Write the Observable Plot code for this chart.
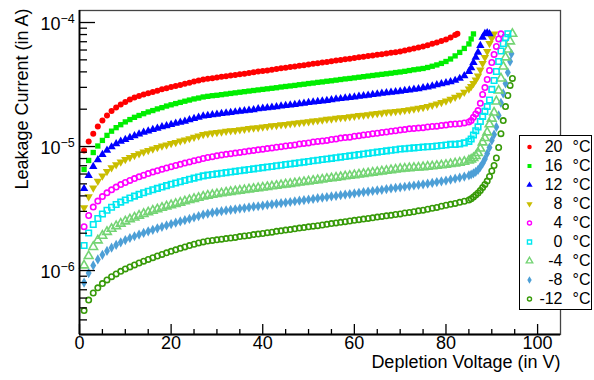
<!DOCTYPE html>
<html><head><meta charset="utf-8">
<script src="https://cdn.jsdelivr.net/npm/d3@7"></script>
<script src="https://cdn.jsdelivr.net/npm/@observablehq/plot@0.6"></script>
<style>
body{margin:0;background:#fff;}
#wrap{position:relative;width:594px;height:380px;font-family:"Liberation Sans",Arial,sans-serif;}
#legend{position:absolute;left:519px;top:135px;width:71px;height:173px;border:1.3px solid #000;background:#fff;}
</style></head><body><div id="wrap"></div>
<script>
// ---- data: leakage current (µA) vs depletion voltage (V) ----
const temps = [20, 16, 12, 8, 4, 0, -4, -8, -12];
const voltGrid = [1,2,3,4,5,6,7,8,9,10,11,12,13,14,15,16,17,18,19,20,21,22,23,24,25,26,27,28,29,30,
 31,32,33,34,35,36,37,38,39,40,41,42,43,44,45,46,47,48,49,50,51,52,53,54,55,56,57,58,59,60,
 61,62,63,64,65,66,67,68,69,70,71,72,73,74,75,76,77,78,79,80,81,82,83,84,85];

const i20 = [9.29,11.0,12.7,14.5,16.2,17.8,19.3,20.6,21.8,22.9,23.9,24.8,25.6,26.3,26.9,27.5,28.2,28.9,29.5,30.2,
 30.8,31.4,32.1,32.7,33.4,34.0,34.7,35.2,35.6,36.0,36.5,36.9,37.4,37.8,38.3,38.7,39.2,39.7,40.2,40.7,
 41.1,41.6,42.1,42.7,43.2,43.7,44.2,44.8,45.3,45.9,46.4,47.0,47.5,48.1,48.7,49.3,49.9,50.5,51.1,51.7,
 52.4,53.0,53.6,54.3,55.0,55.6,56.3,57.0,57.7,58.4,59.5,60.6,61.8,62.9,64.1,65.7,67.3,69.1,71.0,73.0,75.8,79.4];
const tailV20 = [82.5];
const tailI20 = [81.1];

const i16 = [6.53,7.72,8.95,10.1,11.2,12.3,13.3,14.2,15.0,15.8,16.5,17.2,17.8,18.4,19.0,19.5,20.1,20.6,21.2,21.7,
 22.2,22.7,23.2,23.7,24.2,24.6,25.1,25.4,25.7,25.9,26.2,26.5,26.8,27.1,27.4,27.7,28.0,28.3,28.6,28.9,
 29.2,29.5,29.8,30.2,30.5,30.8,31.1,31.5,31.8,32.2,32.5,32.9,33.2,33.6,33.9,34.3,34.7,35.1,35.4,35.8,
 36.2,36.6,37.0,37.4,37.8,38.2,38.6,39.0,39.5,39.9,40.4,41.0,41.6,42.1,42.6,43.4,44.4,45.5,46.8,48.5,
 50.8,53.8,57.4,61.8,67.2];
const tailV16 = [85.5, 86];
const tailI16 = [73.7, 80.9];

const i12 = [4.59,5.84,6.90,7.80,8.60,9.30,9.92,10.5,11.0,11.4,11.8,12.2,12.6,13.0,13.3,13.7,14.0,14.4,14.7,15.0,
 15.4,15.7,16.0,16.4,16.8,17.2,17.6,17.8,18.0,18.2,18.4,18.6,18.8,19.0,19.2,19.4,19.6,19.8,20.1,20.3,
 20.5,20.7,20.9,21.2,21.4,21.6,21.8,22.1,22.3,22.6,22.8,23.0,23.3,23.5,23.8,24.1,24.3,24.6,24.8,25.1,
 25.4,25.6,25.9,26.2,26.5,26.8,27.1,27.3,27.6,27.9,28.2,28.5,28.9,29.2,29.7,30.2,30.7,31.4,32.0,32.6,
 33.2,34.1,35.4,37.1];
const tailV12 = [85, 85.5, 86, 86.5, 87, 87.5, 88, 88.5, 89, 89.5];
const tailI12 = [40.3, 43.2, 47.6, 52.3, 57.4, 65.3, 75.8, 81.6, 82.4, 80.9];

const i8 = [3.22,3.95,4.63,5.25,5.80,6.30,6.75,7.15,7.52,7.86,8.17,8.47,8.76,9.04,9.31,9.57,9.82,10.1,10.3,10.6,
 10.8,11.1,11.3,11.6,11.9,12.2,12.5,12.7,12.9,13.0,13.1,13.3,13.4,13.5,13.7,13.8,14.0,14.1,14.2,14.4,
 14.5,14.7,14.8,15.0,15.1,15.3,15.4,15.6,15.7,15.9,16.1,16.2,16.4,16.6,16.7,16.9,17.1,17.2,17.4,17.6,
 17.8,17.9,18.1,18.3,18.5,18.7,18.9,19.0,19.2,19.4,19.6,19.8,20.1,20.4,20.7,21.1,21.6,22.1,22.7,23.3,
 24.1,25.0,26.0,27.4,29.1];
const tailV8 = [85.5, 86, 86.5, 87, 87.5, 88, 88.5, 89, 89.5, 90, 90.5];
const tailI8 = [30.5, 32.3, 34.4, 37.1, 41.4, 46.8, 52.3, 58.4, 67.8, 74.4, 81.1];

const i4 = [2.26,2.78,3.25,3.63,3.95,4.23,4.48,4.71,4.93,5.13,5.33,5.52,5.70,5.88,6.05,6.22,6.39,6.55,6.71,6.87,
 7.03,7.19,7.35,7.51,7.68,7.84,8.01,8.16,8.29,8.42,8.55,8.66,8.76,8.86,8.97,9.08,9.19,9.30,9.41,9.52,
 9.63,9.75,9.87,9.98,10.1,10.2,10.3,10.5,10.6,10.7,10.9,11.0,11.1,11.2,11.4,11.5,11.7,11.8,11.9,12.1,
 12.2,12.4,12.5,12.7,12.8,13.0,13.1,13.3,13.4,13.6,13.7,13.9,14.0,14.1,14.2,14.4,14.5,14.6,14.8,14.9,
 15.1,15.2,15.3,15.5,15.8];
const tailV4 = [85.5, 86, 86.5, 87, 87.5, 88, 88.5, 89, 89.5, 90, 90.5, 91, 91.5, 92];
const tailI4 = [16.2, 17.2, 18.3, 19.5, 22.3, 26.3, 29.9, 34.7, 41.1, 47.6, 55.3, 64.1, 73.7, 81.1];

const i0 = [1.59,2.01,2.35,2.63,2.86,3.06,3.24,3.41,3.56,3.71,3.85,3.98,4.11,4.24,4.36,4.48,4.60,4.72,4.84,4.96,
 5.08,5.20,5.32,5.44,5.56,5.68,5.80,5.88,5.95,6.02,6.09,6.16,6.23,6.30,6.38,6.45,6.53,6.60,6.68,6.76,
 6.83,6.91,6.99,7.07,7.16,7.24,7.32,7.41,7.49,7.58,7.67,7.76,7.85,7.94,8.03,8.12,8.22,8.31,8.41,8.51,
 8.60,8.70,8.80,8.91,9.01,9.11,9.22,9.33,9.43,9.54,9.61,9.68,9.75,9.82,9.90,9.97,10.0,10.1,10.2,10.3,
 10.4,10.4,10.5,10.7,11.0];
const tailV0 = [85.5, 86, 86.5, 87, 87.5, 88, 88.5, 89, 89.5, 90, 90.5, 91, 91.5, 92, 92.5, 93, 93.5];
const tailI0 = [11.5, 12.4, 13.4, 14.4, 15.9, 17.5, 19.2, 21.0, 23.7, 28.9, 34.1, 40.3, 48.5, 59.0, 67.8, 75.8, 81.1];

const iM4 = [1.10,1.31,1.55,1.75,1.91,2.05,2.17,2.28,2.39,2.49,2.59,2.68,2.77,2.86,2.95,3.04,3.12,3.21,3.29,3.37,
 3.45,3.53,3.62,3.70,3.78,3.86,3.95,4.02,4.08,4.14,4.20,4.26,4.31,4.36,4.41,4.46,4.51,4.56,4.62,4.67,
 4.72,4.78,4.83,4.89,4.95,5.00,5.06,5.12,5.18,5.24,5.30,5.36,5.42,5.49,5.55,5.61,5.68,5.75,5.81,5.88,
 5.95,6.02,6.09,6.16,6.23,6.30,6.37,6.45,6.52,6.60,6.65,6.69,6.74,6.77,6.82,6.88,6.93,6.99,7.06,7.12,
 7.22,7.31,7.42,7.54,7.72];
const tailVM4 = [85.5, 86, 86.5, 87, 87.5, 88, 88.5, 89, 89.5, 90, 90.5, 91, 91.5, 92, 92.5, 93, 93.5, 94, 94.5];
const tailIM4 = [7.86, 8.08, 8.39, 8.87, 9.64, 10.8, 11.7, 13.0, 15.1, 16.8, 18.8, 23.1, 28.3, 35.4, 44.2, 52.3, 60.6, 70.4, 81.1];

const iM8 = [0.800,0.955,1.10,1.23,1.34,1.44,1.53,1.61,1.69,1.76,1.83,1.89,1.95,2.01,2.07,2.13,2.19,2.25,2.31,2.37,
 2.43,2.49,2.55,2.61,2.68,2.75,2.82,2.88,2.93,2.97,3.01,3.05,3.09,3.12,3.16,3.19,3.23,3.27,3.30,3.34,
 3.38,3.42,3.46,3.49,3.53,3.57,3.62,3.66,3.70,3.74,3.78,3.83,3.87,3.91,3.96,4.00,4.05,4.10,4.14,4.19,
 4.24,4.29,4.33,4.38,4.43,4.48,4.54,4.59,4.64,4.69,4.74,4.80,4.85,4.90,4.96,5.02,5.09,5.17,5.24,5.32,
 5.41,5.50,5.61,5.72,5.86];
const tailVM8 = [85.5, 86, 86.5, 87, 87.5, 88, 88.5, 89, 89.5, 90, 90.5, 91, 91.5, 92, 92.5, 93, 93.5, 94, 94.3];
const tailIM8 = [5.95, 6.08, 6.25, 6.47, 6.84, 7.30, 7.93, 8.79, 9.82, 11.2, 12.5, 14.4, 17.8, 22.5, 26.8, 32.3, 39.6, 48.5, 56.0];

const iM12 = [0.476,0.578,0.659,0.725,0.785,0.840,0.892,0.940,0.985,1.03,1.07,1.11,1.15,1.19,1.23,1.27,1.31,1.35,1.39,1.43,
 1.47,1.51,1.55,1.59,1.63,1.67,1.70,1.73,1.75,1.77,1.79,1.81,1.83,1.85,1.88,1.90,1.92,1.95,1.97,1.99,
 2.02,2.04,2.07,2.09,2.12,2.14,2.17,2.20,2.22,2.25,2.28,2.30,2.33,2.36,2.39,2.42,2.45,2.48,2.51,2.54,
 2.57,2.60,2.63,2.66,2.70,2.73,2.76,2.79,2.83,2.86,2.91,2.94,2.98,3.03,3.07,3.12,3.18,3.23,3.30,3.36,
 3.42,3.48,3.55,3.62,3.70];
const tailVM12 = [85.5, 86, 86.5, 87, 87.5, 88, 88.5, 89, 89.5, 90, 90.5, 91, 91.5, 92, 92.5, 93, 93.5, 94, 94.5];
const tailIM12 = [3.79, 3.92, 4.06, 4.22, 4.42, 4.67, 4.94, 5.27, 5.73, 6.35, 7.03, 8.08, 9.82, 12.7, 16.2, 21.0, 25.8, 31.1, 35.4];

// axis ticks
const xDomain = [0, 105];
const yDomain = [3.05e-7, 1.25e-4];
const xMajor = [0, 20, 40, 60, 80, 100];
const xMinor = [5, 10, 15, 25, 30, 35, 45, 50, 55, 65, 70, 75, 85, 90, 95];
const yMajor = [1e-6, 1e-5, 1e-4];
const yExp = ["\u22126", "\u22125", "\u22124"];
const yMinor = [4e-7,5e-7,6e-7,7e-7,8e-7,9e-7,2e-6,3e-6,4e-6,5e-6,6e-6,7e-6,8e-6,9e-6,2e-5,3e-5,4e-5,5e-5,6e-5,7e-5,8e-5,9e-5];
const tempLabels = ["20", "16", "12", "8", "4", "0", "-4", "-8", "-12"];

// ---- styling ----
const triangleDown = {
  draw(ctx, size) {
    const s3 = Math.sqrt(3);
    const y = -Math.sqrt(size / (s3 * 3));
    ctx.moveTo(0, -y * 2);
    ctx.lineTo(-s3 * y, y);
    ctx.lineTo(s3 * y, y);
    ctx.closePath();
  }
};
const styles = [
  {color: "#ff0000", symbol: "circle", filled: true, r: 3.0},
  {color: "#00ee00", symbol: "square", filled: true, r: 3.0},
  {color: "#0000ff", symbol: "triangle", filled: true, r: 3.1},
  {color: "#c9bd00", symbol: triangleDown, filled: true, r: 3.1},
  {color: "#ff00ff", symbol: "circle", filled: false, r: 2.7},
  {color: "#00e8f0", symbol: "square", filled: false, r: 3.1},
  {color: "#74d474", symbol: "triangle", filled: false, r: 3.2},
  {color: "#4d9fd6", symbol: "diamond", filled: true, r: 3.1},
  {color: "#379a08", symbol: "circle", filled: false, r: 2.7}
];
const bodies = [i20, i16, i12, i8, i4, i0, iM4, iM8, iM12];
const tailVs = [tailV20, tailV16, tailV12, tailV8, tailV4, tailV0, tailVM4, tailVM8, tailVM12];
const tailIs = [tailI20, tailI16, tailI12, tailI8, tailI4, tailI0, tailIM4, tailIM8, tailIM12];

const series = temps.map((t, k) => {
  const pts = bodies[k].map((v, j) => ({v: voltGrid[j], i: v * 1e-6}));
  tailVs[k].forEach((v, j) => pts.push({v, i: tailIs[k][j] * 1e-6}));
  return {t, pts, ...styles[k]};
});

function dotMark(data, s, extra = {}) {
  return Plot.dot(data, {
    symbol: s.symbol, r: s.r,
    fill: s.filled ? s.color : "none",
    stroke: s.filled ? "none" : s.color,
    strokeWidth: 1.6,
    ...extra
  });
}

const frameW = 594 - 79 - 34;
const frameH = 380 - 10 - 46;

const chart = Plot.plot({
  width: 594, height: 380,
  marginLeft: 79, marginRight: 34, marginTop: 10, marginBottom: 46,
  style: {fontFamily: "'Liberation Sans', Arial, sans-serif", background: "white", color: "black", overflow: "visible"},
  x: {domain: xDomain, axis: null},
  y: {type: "log", domain: yDomain, axis: null},
  marks: [
    ...series.slice().reverse().map(s => dotMark(s.pts, s, {x: "v", y: "i"})),
    Plot.frame({stroke: "#444", strokeWidth: 1.3}),
    Plot.ruleX([xDomain[0]], {stroke: "black", strokeWidth: 1.8}),
    Plot.ruleY([yDomain[0]], {stroke: "black", strokeWidth: 1.8}),
    Plot.tickY(yMajor, {y: d => d, stroke: "black", strokeWidth: 1.3, insetRight: frameW - 16}),
    Plot.tickY(yMinor, {y: d => d, stroke: "black", strokeWidth: 1.3, insetRight: frameW - 8}),
    Plot.tickX(xMajor, {x: d => d, stroke: "black", strokeWidth: 1.3, insetTop: frameH - 10}),
    Plot.tickX(xMinor, {x: d => d, stroke: "black", strokeWidth: 1.3, insetTop: frameH - 5}),
    Plot.text(yMajor, {y: d => d, frameAnchor: "left", dx: -19, dy: 2, textAnchor: "end", text: () => "10", fontSize: 18}),
    Plot.text(yMajor, {y: d => d, frameAnchor: "left", dx: -19, dy: -4, textAnchor: "start", text: (d, k) => yExp[k], fontSize: 12.5}),
    Plot.text(xMajor, {x: d => d, frameAnchor: "bottom", dy: 14, text: d => String(d), fontSize: 18}),
    Plot.text(["Depletion Voltage (in V)"], {frameAnchor: "bottom-right", dy: 33, textAnchor: "end", fontSize: 18}),
    Plot.text(["Leakage Current (in A)"], {frameAnchor: "top-left", dx: -64, dy: -2, rotate: -90, textAnchor: "end", fontSize: 18})
  ]
});

const legend = Plot.plot({
  width: 71, height: 173, margin: 0,
  style: {fontFamily: "'Liberation Sans', Arial, sans-serif", background: "white", color: "black"},
  y: {type: "band", domain: tempLabels, padding: 0, axis: null},
  marks: [
    ...series.map((s, k) => dotMark([tempLabels[k]], s, {y: d => d, frameAnchor: "left", dx: 9, r: s.r * 0.75, strokeWidth: 1.4})),
    Plot.text(tempLabels, {y: d => d, frameAnchor: "left", dx: 42, textAnchor: "end", text: d => d, fontSize: 16}),
    Plot.text(tempLabels, {y: d => d, frameAnchor: "left", dx: 52, textAnchor: "start", text: () => "\u00B0C", fontSize: 16})
  ]
});

const wrap = document.getElementById("wrap");
wrap.append(chart);
const ld = document.createElement("div");
ld.id = "legend";
ld.append(legend);
wrap.append(ld);
</script></body></html>
